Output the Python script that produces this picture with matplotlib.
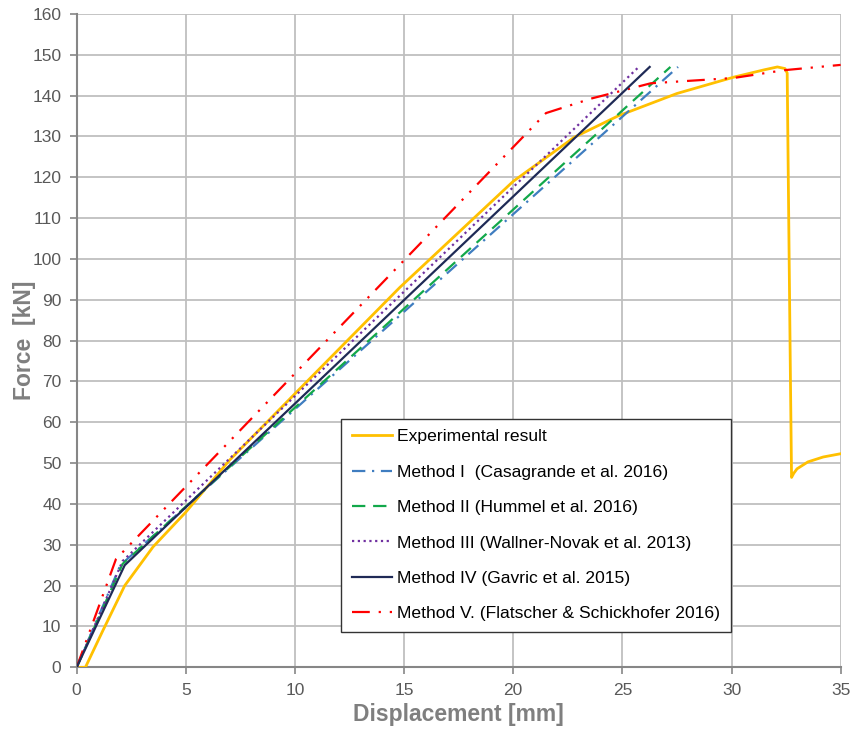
import matplotlib
matplotlib.use("Agg")
import matplotlib.pyplot as plt

plt.rcParams['font.family'] = ['Liberation Sans', 'DejaVu Sans']

# experimental curve
exp_x = [0.0, 0.4, 1.2, 2.2, 3.5, 5.0, 7.0, 10.0, 12.4, 14.8, 17.5, 20.0, 22.8, 24.8,
         27.5, 30.1, 31.5, 32.1, 32.45, 32.55, 32.6, 32.7, 32.75, 32.85, 33.0, 33.5, 34.2, 35.0]
exp_y = [0.0, 0.0, 9.0, 20.0, 29.5, 38.0, 50.7, 67.0, 80.0, 93.0, 106.5, 119.0, 129.8, 135.0,
         140.5, 144.5, 146.3, 147.0, 146.6, 145.5, 120.0, 70.0, 46.5, 47.5, 48.6, 50.3, 51.5, 52.3]

# method predictions
m1_x = [0.0, 2.0, 27.55]
m1_y = [0.0, 25.0, 147.0]
m2_x = [0.0, 2.1, 27.2]
m2_y = [0.0, 25.3, 147.0]
m3_x = [0.0, 2.1, 25.75]
m3_y = [0.0, 26.0, 147.0]
m4_x = [0.0, 2.2, 26.25]
m4_y = [0.0, 25.0, 147.0]
m5_x = [0.0, 1.8, 21.5, 23.6, 26.3, 30.1, 32.4, 35.0]
m5_y = [0.0, 26.5, 135.7, 139.3, 143.0, 144.3, 146.2, 147.5]

labels = ["Experimental result",
          "Method I  (Casagrande et al. 2016)",
          "Method II (Hummel et al. 2016)",
          "Method III (Wallner-Novak et al. 2013)",
          "Method IV (Gavric et al. 2015)",
          "Method V. (Flatscher & Schickhofer 2016)"]

fig = plt.figure(figsize=(8.52, 7.29), dpi=100)
ax = fig.add_axes([0.090, 0.0846, 0.8967, 0.8964])

ax.plot(exp_x, exp_y, color='#FFC000', lw=2.0, label=labels[0], zorder=3)
ax.plot(m1_x, m1_y, color='#3F7DC0', lw=1.6, dashes=(6, 3, 1, 3), label=labels[1], zorder=4)
ax.plot(m2_x, m2_y, color='#12A84A', lw=1.6, dashes=(6, 3.5), label=labels[2], zorder=4)
ax.plot(m3_x, m3_y, color='#7030A0', lw=1.6, dashes=(1, 1.6), label=labels[3], zorder=4)
ax.plot(m4_x, m4_y, color='#1F2A56', lw=1.6, label=labels[4], zorder=5)
ax.plot(m5_x, m5_y, color='#FF0000', lw=1.6, dashes=(8, 4, 1, 4, 1, 4), label=labels[5], zorder=4)

ax.set_xlim(0, 35)
ax.set_ylim(0, 160)
ax.set_xticks(range(0, 36, 5))
ax.set_yticks(range(0, 161, 10))
ax.grid(True, color='#BFBFBF', lw=1.3)
ax.set_axisbelow(True)
for s in ['top', 'right']:
    ax.spines[s].set_visible(False)
for s in ['left', 'bottom']:
    ax.spines[s].set_color('#868686')
    ax.spines[s].set_linewidth(1.5)
ax.tick_params(colors='#868686', labelcolor='#595959', labelsize=12.5, length=5, width=1.2, pad=6)

ax.set_xlabel("Displacement [mm]", fontsize=16.5, fontweight='bold', color='#7F7F7F', labelpad=4)
ax.set_ylabel("Force  [kN]", fontsize=16.5, fontweight='bold', color='#7F7F7F', labelpad=-3)

leg = ax.legend(loc='lower left', bbox_to_anchor=(0.335, 0.041), fontsize=12.6,
                frameon=True, fancybox=False, edgecolor='#333333', framealpha=1,
                handlelength=2.3, labelspacing=1.15, borderpad=0.6, handletextpad=0.3)
leg.get_frame().set_linewidth(1.0)

fig.savefig("out.png", dpi=100)
